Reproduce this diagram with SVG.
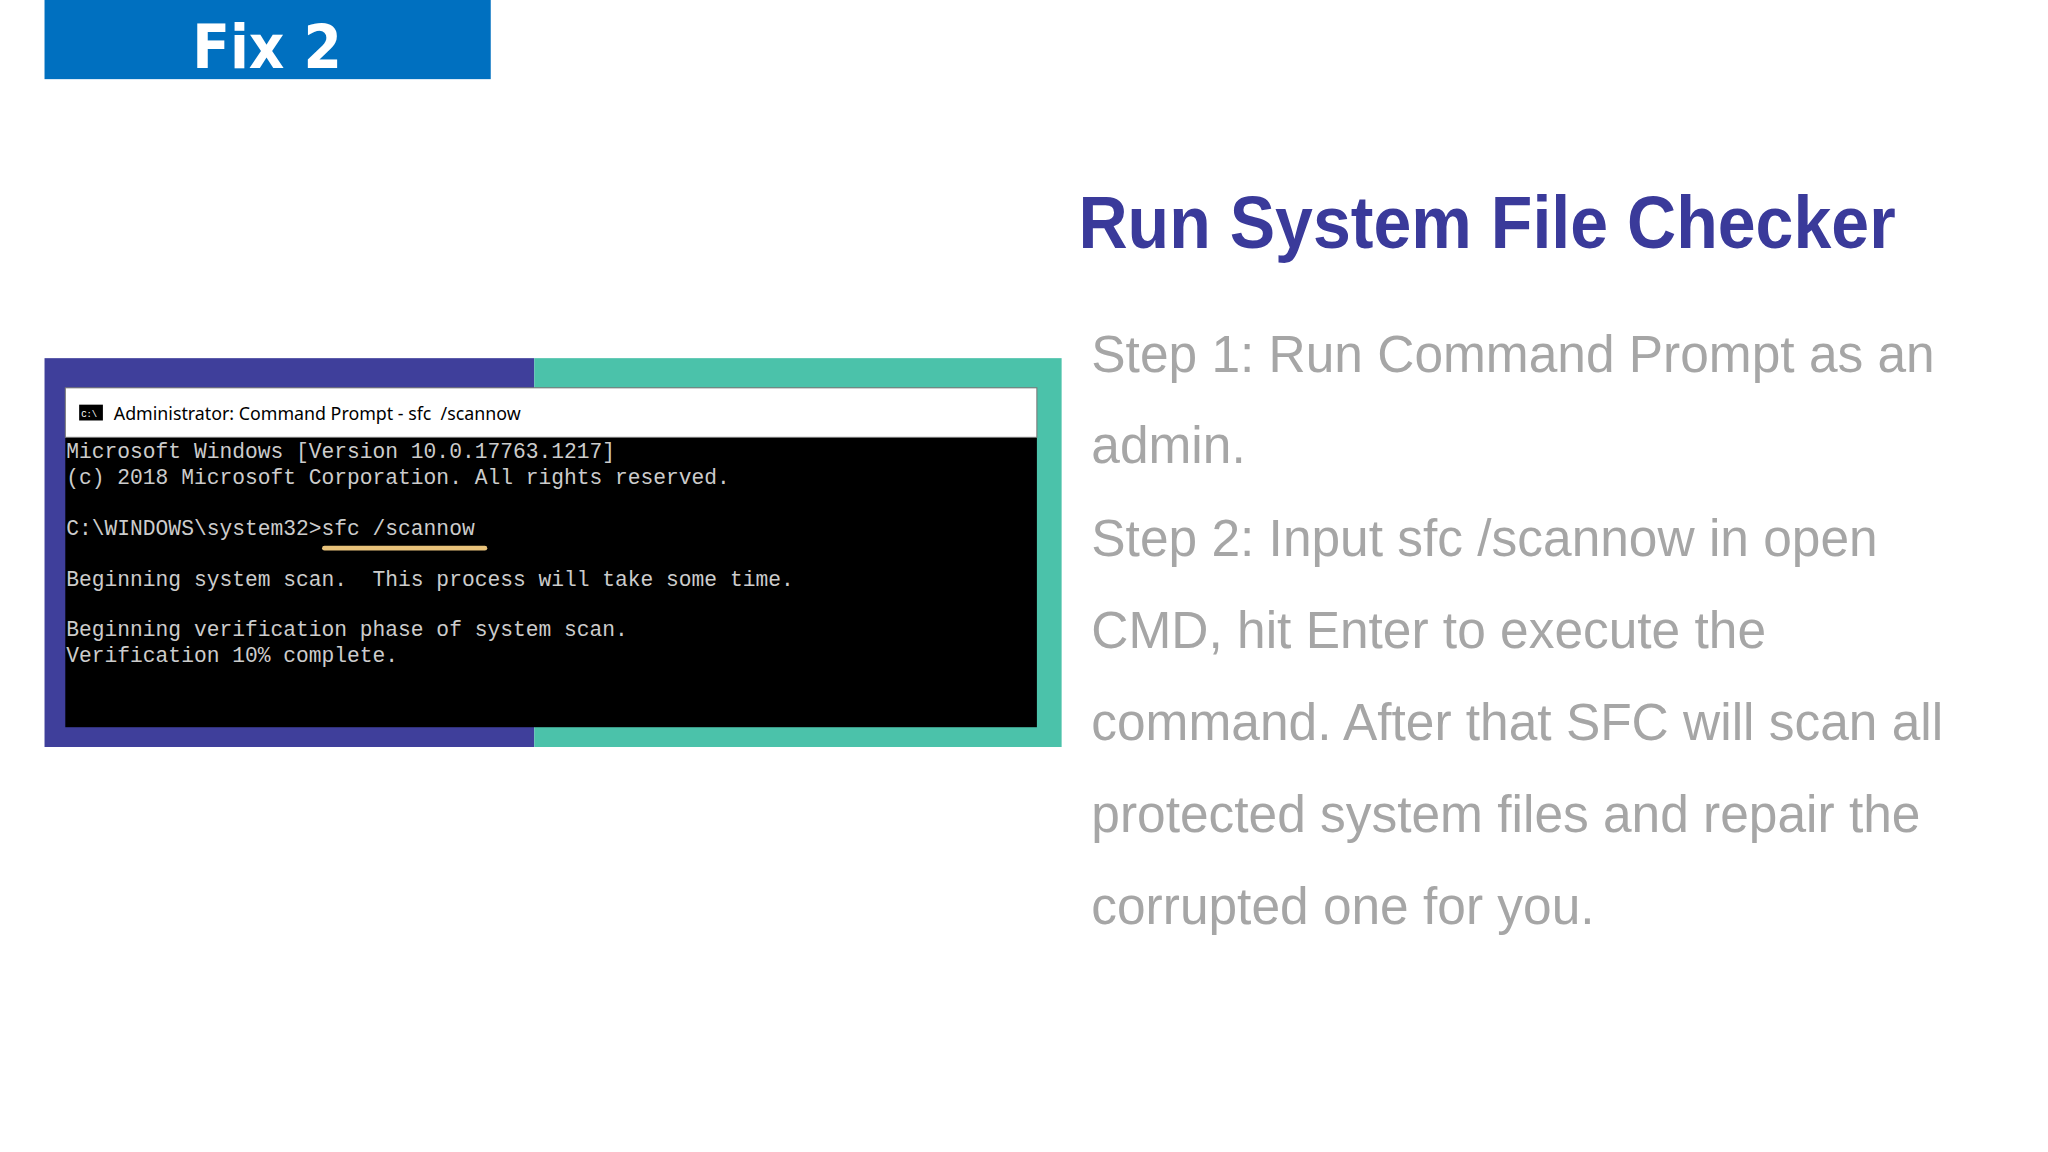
<svg xmlns="http://www.w3.org/2000/svg" width="2048" height="1152" viewBox="0 0 2048 1152">
<style>
.con{font-family:"Liberation Mono",monospace;font-size:21.5px;fill:#cccccc;white-space:pre}
.body{font-family:"Liberation Sans",Arial,sans-serif;font-size:52px;fill:#a6a6a6}
</style>
<rect width="2048" height="1152" fill="#ffffff"/>
<g transform="scale(0.9894)">
<g id="fix-label">
<rect x="45" y="0" width="451" height="80" fill="#0070c0"/>
<text x="270" y="69" text-anchor="middle" font-family="DejaVu Sans Condensed, DejaVu Sans, sans-serif" font-weight="bold" font-size="62" fill="#ffffff">Fix 2</text>
</g>
<g id="screenshot">
<rect x="45" y="362" width="495" height="393" fill="#3f3f9b"/>
<rect x="540" y="362" width="533" height="393" fill="#4bc2aa"/>
<rect x="66" y="392" width="982" height="343" fill="#000000"/>
<rect x="66" y="392" width="982" height="50" fill="#ffffff" stroke="#777" stroke-width="1"/>
<rect x="80" y="409" width="24" height="16" fill="#000"/>
<text x="82" y="421" font-family="Liberation Mono,monospace" font-size="9" fill="#fff">C:\</text>
<text x="115" y="424" font-family="Noto Sans, sans-serif" font-size="18" fill="#000" style="white-space:pre">Administrator: Command Prompt - sfc  /scannow</text>
<text class="con" x="67" y="463">Microsoft Windows [Version 10.0.17763.1217]</text>
<text class="con" x="67" y="489">(c) 2018 Microsoft Corporation. All rights reserved.</text>
<text class="con" x="67" y="541">C:\WINDOWS\system32&gt;sfc /scannow</text>
<text class="con" x="67" y="592">Beginning system scan.  This process will take some time.</text>
<text class="con" x="67" y="643">Beginning verification phase of system scan.</text>
<text class="con" x="67" y="669">Verification 10% complete.</text>
<line x1="328" y1="554" x2="490" y2="554" stroke="#e8c27a" stroke-width="5" stroke-linecap="round"/>
</g>
<g id="title">
<text x="1090" y="251" font-family="Liberation Sans,Arial,sans-serif" font-weight="bold" font-size="74" fill="#3a3a9a" textLength="826" lengthAdjust="spacingAndGlyphs">Run System File Checker</text>
</g>
<g id="steps">
<text class="body" x="1103" y="376">Step 1: Run Command Prompt as an</text>
<text class="body" x="1103" y="468">admin.</text>
<text class="body" x="1103" y="562">Step 2: Input sfc /scannow in open</text>
<text class="body" x="1103" y="655">CMD, hit Enter to execute the</text>
<text class="body" x="1103" y="748">command. After that SFC will scan all</text>
<text class="body" x="1103" y="841">protected system files and repair the</text>
<text class="body" x="1103" y="934">corrupted one for you.</text>
</g>
</g>
</svg>
